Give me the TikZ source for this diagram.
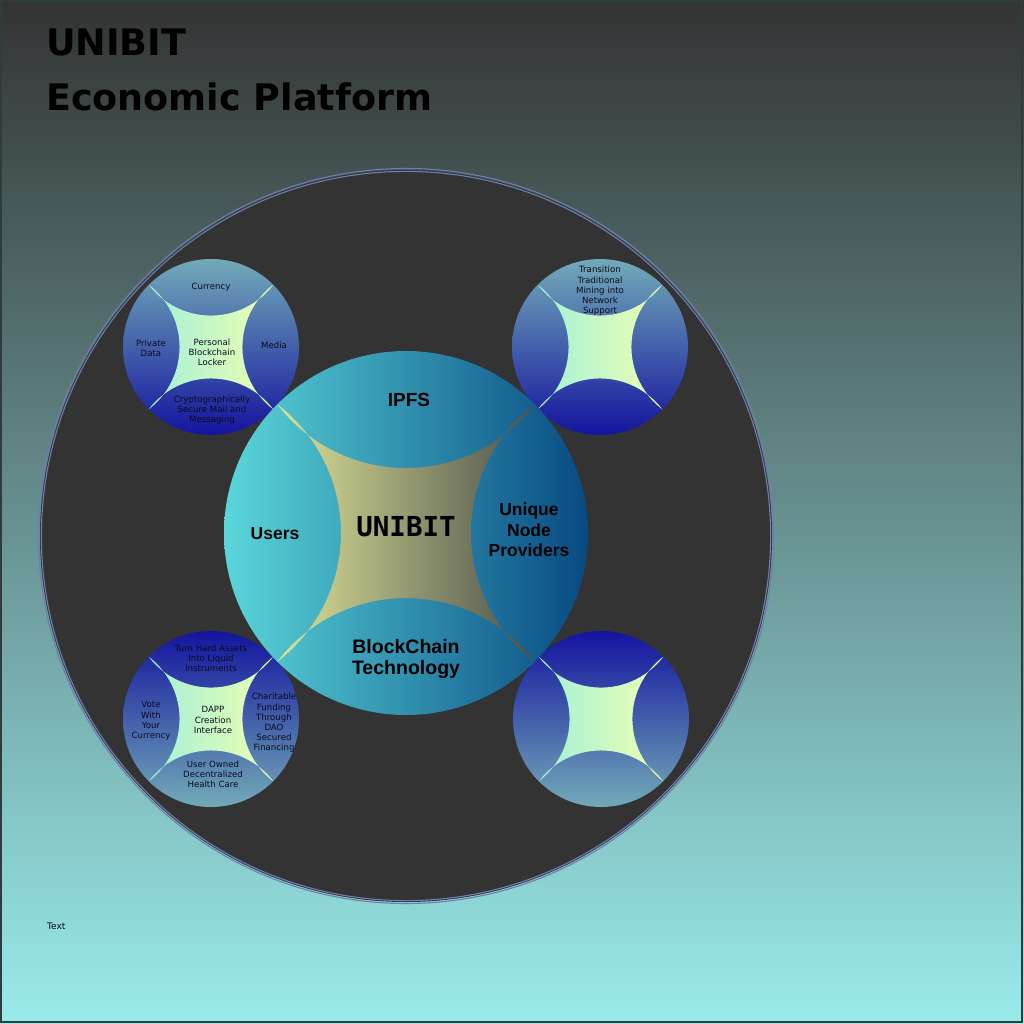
\documentclass[tikz,border=0pt]{standalone}
\usepackage{fontspec}
\setmainfont{DejaVu Sans}
\newfontfamily\lsans{Liberation Sans}
\newfontfamily\dmono{DejaVu Sans Mono}
\definecolor{bgtop}{HTML}{333333}
\definecolor{bgbot}{HTML}{9AEBEB}
\definecolor{framec}{HTML}{2E3C3C}
\definecolor{darkdisc}{HTML}{333333}
\definecolor{ringc}{HTML}{6E7EB0}
\definecolor{sclight}{HTML}{72AAB8}
\definecolor{scdark}{HTML}{14149E}
\definecolor{smint}{HTML}{A2F0DA}
\definecolor{syellow}{HTML}{EEFFB0}
\definecolor{mleft}{HTML}{5AD6DA}
\definecolor{mright}{HTML}{084A82}
\definecolor{msleft}{HTML}{DEE496}
\definecolor{msright}{HTML}{4C504C}
\definecolor{smalltxt}{HTML}{0A0A1A}
\newcommand\starfill[2]{%
  \shade[left color=#1,right color=#2] (0.7071,0.7071)
    arc[start angle=-37.34,end angle=-142.66,radius=0.8896]
    arc[start angle=52.66,end angle=-52.66,radius=0.8896]
    arc[start angle=142.66,end angle=37.34,radius=0.8896]
    arc[start angle=232.66,end angle=127.34,radius=0.8896] -- cycle;}
\newcommand\minidisc[4]{%
  \begin{scope}[shift={(#1,#2)},scale=88]
    \shade[top color=#3,bottom color=#4] (0,0) circle[radius=1];
    \starfill{smint}{syellow}
  \end{scope}}
\begin{document}
\begin{tikzpicture}[x=1pt,y=1pt,
  small/.style={font=\fontsize{8.6}{10.2}\selectfont, text=smalltxt, align=center, inner sep=0pt},
  big/.style={font=\lsans\bfseries\fontsize{17.5}{20.5}\selectfont, text=black, align=center, inner sep=0pt},
  title/.style={font=\bfseries\fontsize{36.5}{40}\selectfont, text=black, anchor=base west, inner sep=0pt}]
\useasboundingbox (0,0) rectangle (1024,-1024);
% background
\shade[top color=bgtop,bottom color=bgbot] (0,0) rectangle (1024,-1024);
\draw[framec,line width=2pt] (1,-1) rectangle (1021.5,-1021.5);
% big dark disc with double ring
\fill[darkdisc] (406,-536) circle[radius=366];
\draw[ringc,line width=1.1pt] (406,-536) circle[radius=367.5];
\draw[ringc,line width=1.1pt] (406,-536) circle[radius=364.6];
% small discs
\minidisc{211}{-347}{sclight}{scdark}
\minidisc{600}{-347}{sclight}{scdark}
\minidisc{211}{-719}{scdark}{sclight}
\minidisc{601}{-719}{scdark}{sclight}
% main disc
\begin{scope}[shift={(406,-533)},scale=182]
  \shade[left color=mleft,right color=mright] (0,0) circle[radius=1];
  \starfill{msleft}{msright}
\end{scope}
% title
\node[title] (t1) at (46,-56) {UNIBIT};
\node[title] (t2) at (46,-111) {Economic Platform};
% main labels
\node[big,font=\lsans\bfseries\fontsize{19}{21}\selectfont] (ipfs) at (409,-400) {IPFS};
\node[big] (users) at (275,-534) {Users};
\node[big] (unp) at (529,-530) {Unique\\Node\\Providers};
\node[big,font=\lsans\bfseries\fontsize{19.5}{21}\selectfont] (bct) at (406,-659) {BlockChain\\Technology};
\node[inner sep=0pt,font=\dmono\bfseries\fontsize{27.5}{30}\selectfont] (core) at (406,-527) {UNIBIT};
% top-left disc
\node[small] (cur) at (211,-287) {Currency};
\node[small] (pd) at (151,-348) {Private\\Data};
\node[small] (med) at (274,-345) {Media};
\node[small] (pbl) at (212,-352) {Personal\\Blockchain\\Locker};
\node[small] (csm) at (212,-410) {Cryptographically\\Secure Mail and\\Messaging};
% top-right disc
\node[small] (ttm) at (600,-291) {Transition\\Traditional\\Mining into\\Network\\Support};
% bottom-left disc
\node[small] (tha) at (211,-658) {Turn Hard Assets\\Into Liquid\\Instruments};
\node[small] (vote) at (151,-721) {Vote\\With\\Your\\Currency};
\node[small] (dapp) at (213,-720) {DAPP\\Creation\\Interface};
\node[small] (char) at (274,-723) {Charitable\\Funding\\Through\\DAO\\Secured\\Financing};
\node[small] (uod) at (213,-774) {User Owned\\Decentralized\\Health Care};
% footer
\node[font=\fontsize{9}{11}\selectfont,text=smalltxt,anchor=west,inner sep=0pt] (txt) at (47,-926) {Text};
\end{tikzpicture}
\end{document}
